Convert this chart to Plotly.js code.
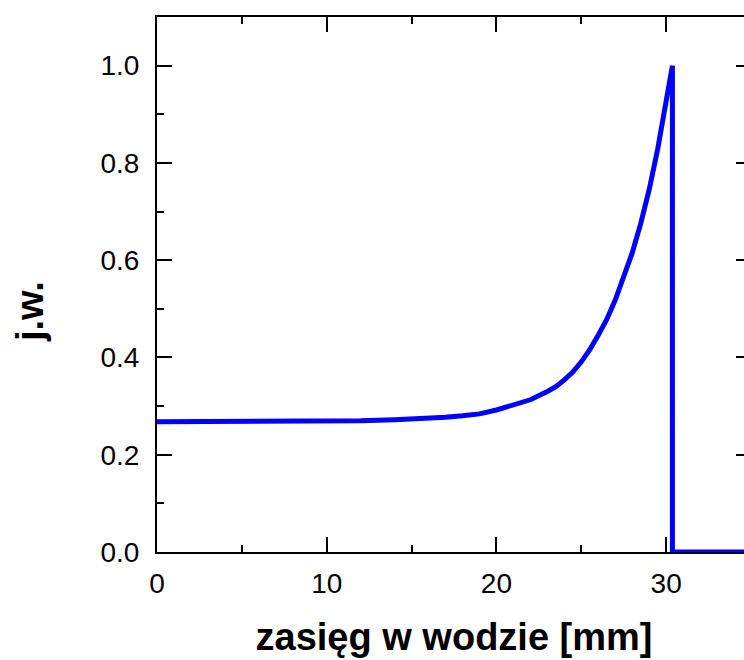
<!DOCTYPE html>
<html>
<head>
<meta charset="utf-8">
<script src="https://cdn.plot.ly/plotly-3.0.1.min.js"></script>
<style>
html, body { margin: 0; padding: 0; overflow: hidden; background: #fff; }
#chart { width: 760px; height: 660px; }
</style>
</head>
<body>
<div id="chart"></div>
<script>
// Depth in water [mm]
const depth = [0, 2, 4, 6, 8, 10, 12, 14, 15, 16, 17, 18, 19, 20, 21, 22, 23, 23.5, 24, 24.5, 25, 25.5, 26, 26.5, 27, 27.5, 28, 28.5, 29, 29.5, 30, 30.2, 30.37, 30.37, 35];
// Relative dose [a.u.]
const dose = [0.268, 0.268, 0.268, 0.268, 0.269, 0.269, 0.270, 0.272, 0.273, 0.275, 0.277, 0.280, 0.284, 0.292, 0.302, 0.313, 0.330, 0.340, 0.354, 0.370, 0.391, 0.416, 0.446, 0.478, 0.518, 0.563, 0.615, 0.675, 0.745, 0.828, 0.923, 0.963, 1.0, 0.0, 0.0];

const xTitle = 'zasięg w wodzie [mm]';
const yTitle = 'j.w.';

const font = 'Liberation Sans, Arial, sans-serif';

const axisCommon = {
  showgrid: false,
  zeroline: false,
  showline: true,
  linecolor: '#000',
  linewidth: 2,
  mirror: 'ticks',
  ticks: 'inside',
  ticklen: 15,
  tickwidth: 2,
  tickcolor: '#000',
  tickfont: {family: font, size: 28, color: '#000'}
};

const trace = {
  x: depth,
  y: dose,
  type: 'scatter',
  mode: 'lines',
  line: {color: '#0000FF', width: 5},
  hoverinfo: 'skip'
};

const layout = {
  width: 760,
  height: 660,
  margin: {l: 157, r: 9, t: 17, b: 108, pad: 0},
  paper_bgcolor: '#fff',
  plot_bgcolor: '#fff',
  showlegend: false,
  xaxis: Object.assign({}, axisCommon, {
    range: [0, 35],
    tick0: 0,
    dtick: 10,
    ticklabelstandoff: 5,
    minor: {dtick: 5, ticks: 'inside', ticklen: 7, tickwidth: 2, tickcolor: '#000'},
    title: {text: xTitle, font: {family: font, size: 38, color: '#000', weight: 'bold'}, standoff: 26}
  }),
  yaxis: Object.assign({}, axisCommon, {
    range: [0, 1.1],
    tick0: 0,
    dtick: 0.2,
    tickformat: '.1f',
    ticklabelstandoff: 10,
    minor: {dtick: 0.1, ticks: 'inside', ticklen: 7, tickwidth: 2, tickcolor: '#000'}
  }),
  annotations: [{
    text: yTitle,
    xref: 'paper', yref: 'paper',
    x: (30 - 157) / 594, y: (552 - 312) / 535,
    xanchor: 'center', yanchor: 'middle',
    textangle: -90,
    showarrow: false,
    font: {family: font, size: 38, color: '#000', weight: 'bold'}
  }]
};

Plotly.newPlot('chart', [trace], layout, {staticPlot: true, displayModeBar: false});
</script>
</body>
</html>
